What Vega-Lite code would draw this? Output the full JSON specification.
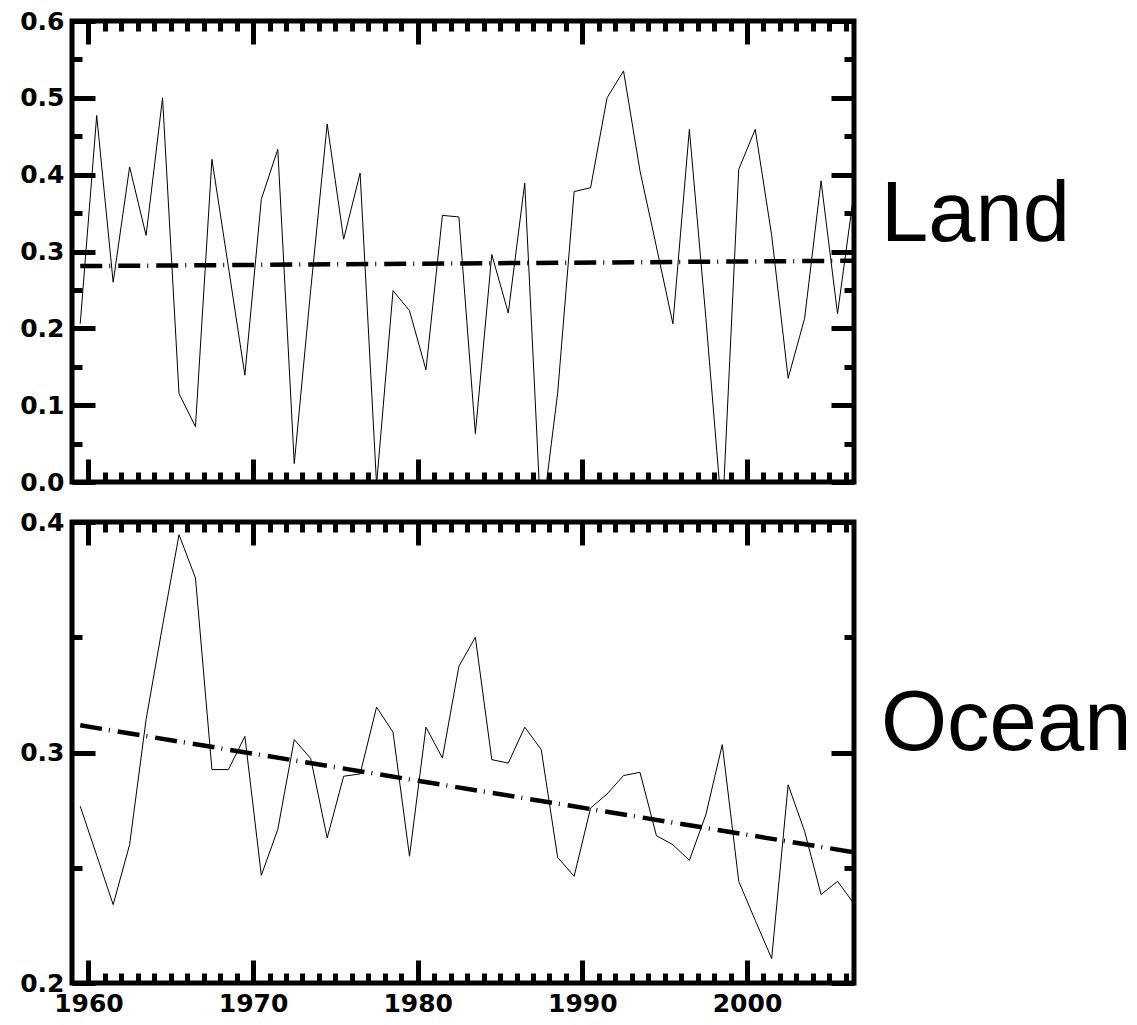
{
  "$schema": "https://vega.github.io/schema/vega-lite/v6.json",
  "padding": {"left": 17, "top": 6, "right": 0, "bottom": 0},
  "background": "white",
  "datasets": {
    "land": [
      {"year": 1959.5, "value": 0.206}, {"year": 1960.5, "value": 0.477}, {"year": 1961.5, "value": 0.260},
      {"year": 1962.5, "value": 0.410}, {"year": 1963.5, "value": 0.321}, {"year": 1964.5, "value": 0.500},
      {"year": 1965.5, "value": 0.115}, {"year": 1966.5, "value": 0.072}, {"year": 1967.5, "value": 0.420},
      {"year": 1968.5, "value": 0.280}, {"year": 1969.5, "value": 0.139}, {"year": 1970.5, "value": 0.368},
      {"year": 1971.5, "value": 0.433}, {"year": 1972.5, "value": 0.024}, {"year": 1973.5, "value": 0.250},
      {"year": 1974.5, "value": 0.466}, {"year": 1975.5, "value": 0.316}, {"year": 1976.5, "value": 0.402},
      {"year": 1977.5, "value": -0.003}, {"year": 1978.5, "value": 0.249}, {"year": 1979.5, "value": 0.223},
      {"year": 1980.5, "value": 0.146}, {"year": 1981.5, "value": 0.347}, {"year": 1982.5, "value": 0.345},
      {"year": 1983.5, "value": 0.063}, {"year": 1984.5, "value": 0.296}, {"year": 1985.5, "value": 0.220},
      {"year": 1986.5, "value": 0.389}, {"year": 1987.5, "value": -0.056}, {"year": 1988.5, "value": 0.116},
      {"year": 1989.5, "value": 0.378}, {"year": 1990.5, "value": 0.383}, {"year": 1991.5, "value": 0.500},
      {"year": 1992.5, "value": 0.535}, {"year": 1993.5, "value": 0.405}, {"year": 1994.5, "value": 0.306},
      {"year": 1995.5, "value": 0.206}, {"year": 1996.5, "value": 0.459}, {"year": 1997.5, "value": 0.214},
      {"year": 1998.5, "value": -0.047}, {"year": 1999.5, "value": 0.407}, {"year": 2000.5, "value": 0.459},
      {"year": 2001.5, "value": 0.321}, {"year": 2002.5, "value": 0.135}, {"year": 2003.5, "value": 0.213},
      {"year": 2004.5, "value": 0.392}, {"year": 2005.5, "value": 0.219}, {"year": 2006.5, "value": 0.377}
    ],
    "ocean": [
      {"year": 1959.5, "value": 0.2767}, {"year": 1960.5, "value": 0.2554}, {"year": 1961.5, "value": 0.2340},
      {"year": 1962.5, "value": 0.2600}, {"year": 1963.5, "value": 0.3143}, {"year": 1964.5, "value": 0.3550},
      {"year": 1965.5, "value": 0.3945}, {"year": 1966.5, "value": 0.3757}, {"year": 1967.5, "value": 0.2926},
      {"year": 1968.5, "value": 0.2926}, {"year": 1969.5, "value": 0.3070}, {"year": 1970.5, "value": 0.2467},
      {"year": 1971.5, "value": 0.2666}, {"year": 1972.5, "value": 0.3056}, {"year": 1973.5, "value": 0.2974},
      {"year": 1974.5, "value": 0.2629}, {"year": 1975.5, "value": 0.2897}, {"year": 1976.5, "value": 0.2907},
      {"year": 1977.5, "value": 0.3197}, {"year": 1978.5, "value": 0.3088}, {"year": 1979.5, "value": 0.2550},
      {"year": 1980.5, "value": 0.3110}, {"year": 1981.5, "value": 0.2976}, {"year": 1982.5, "value": 0.3374},
      {"year": 1983.5, "value": 0.3500}, {"year": 1984.5, "value": 0.2969}, {"year": 1985.5, "value": 0.2954},
      {"year": 1986.5, "value": 0.3110}, {"year": 1987.5, "value": 0.3013}, {"year": 1988.5, "value": 0.2545},
      {"year": 1989.5, "value": 0.2463}, {"year": 1990.5, "value": 0.2759}, {"year": 1991.5, "value": 0.2820},
      {"year": 1992.5, "value": 0.2900}, {"year": 1993.5, "value": 0.2914}, {"year": 1994.5, "value": 0.2639},
      {"year": 1995.5, "value": 0.2600}, {"year": 1996.5, "value": 0.2532}, {"year": 1997.5, "value": 0.2730},
      {"year": 1998.5, "value": 0.3034}, {"year": 1999.5, "value": 0.2441}, {"year": 2000.5, "value": 0.2272},
      {"year": 2001.5, "value": 0.2106}, {"year": 2002.5, "value": 0.2860}, {"year": 2003.5, "value": 0.2658},
      {"year": 2004.5, "value": 0.2384}, {"year": 2005.5, "value": 0.2441}, {"year": 2006.5, "value": 0.2344}
    ],
    "landTrend": [{"year": 1959.5, "value": 0.281}, {"year": 2006.5, "value": 0.288}],
    "oceanTrend": [{"year": 1959.5, "value": 0.3118}, {"year": 2006.5, "value": 0.2567}]
  },
  "bounds": "flush",
  "spacing": 40,
  "vconcat": [
    {
      "width": 782,
      "height": 461,
      "resolve": {"axis": {"x": "independent", "y": "independent"}},
      "layer": [
        {
          "data": {"name": "land"},
          "mark": {"type": "line", "color": "black", "strokeWidth": 1, "clip": true},
          "encoding": {
            "x": {"field": "year", "type": "quantitative", "scale": {"domain": [1959, 2006.5], "nice": false, "zero": false},
              "axis": {"orient": "bottom", "values": [1960, 1970, 1980, 1990, 2000], "tickSize": -23, "labels": false, "title": null}},
            "y": {"field": "value", "type": "quantitative", "scale": {"domain": [0, 0.6], "nice": false, "zero": false},
              "axis": {"orient": "left", "values": [0, 0.1, 0.2, 0.3, 0.4, 0.5, 0.6], "tickSize": -23, "labelPadding": 31, "format": ".1f", "title": null}}
          }
        },
        {
          "data": {"name": "landTrend"},
          "mark": {"type": "line", "color": "black", "strokeWidth": 4.5, "strokeDash": [22, 7, 1, 8], "strokeCap": "butt", "clip": true},
          "encoding": {
            "x": {"field": "year", "type": "quantitative",
              "axis": {"orient": "bottom", "values": [1961,1962,1963,1964,1965,1966,1967,1968,1969,1971,1972,1973,1974,1975,1976,1977,1978,1979,1981,1982,1983,1984,1985,1986,1987,1988,1989,1991,1992,1993,1994,1995,1996,1997,1998,1999,2001,2002,2003,2004,2005,2006], "tickSize": -10, "labels": false, "title": null}},
            "y": {"field": "value", "type": "quantitative",
              "axis": {"orient": "left", "values": [0.05, 0.15, 0.25, 0.35, 0.45, 0.55], "tickSize": -10, "labels": false, "title": null}}
          }
        },
        {
          "data": {"name": "land"},
          "mark": {"type": "line", "opacity": 0},
          "encoding": {
            "x": {"field": "year", "type": "quantitative",
              "axis": {"orient": "top", "values": [1960, 1970, 1980, 1990, 2000], "tickSize": -23, "labels": false, "title": null}},
            "y": {"field": "value", "type": "quantitative",
              "axis": {"orient": "right", "values": [0, 0.1, 0.2, 0.3, 0.4, 0.5, 0.6], "tickSize": -23, "labels": false,
                "title": "Land", "titleAngle": 0, "titleAlign": "left", "titleBaseline": "alphabetic", "titleFont": "Liberation Sans Narrow, Liberation Sans, Arial, sans-serif",
                "titleFontSize": 85, "titleFontWeight": "normal", "titleColor": "black", "titlePadding": 24, "titleY": 219}}
          }
        },
        {
          "data": {"name": "land"},
          "mark": {"type": "line", "opacity": 0},
          "encoding": {
            "x": {"field": "year", "type": "quantitative",
              "axis": {"orient": "top", "values": [1961,1962,1963,1964,1965,1966,1967,1968,1969,1971,1972,1973,1974,1975,1976,1977,1978,1979,1981,1982,1983,1984,1985,1986,1987,1988,1989,1991,1992,1993,1994,1995,1996,1997,1998,1999,2001,2002,2003,2004,2005,2006], "tickSize": -10, "labels": false, "title": null}},
            "y": {"field": "value", "type": "quantitative",
              "axis": {"orient": "right", "values": [0.05, 0.15, 0.25, 0.35, 0.45, 0.55], "tickSize": -10, "labels": false, "title": null}}
          }
        }
      ]
    },
    {
      "width": 782,
      "height": 461,
      "resolve": {"axis": {"x": "independent", "y": "independent"}},
      "layer": [
        {
          "data": {"name": "ocean"},
          "mark": {"type": "line", "color": "black", "strokeWidth": 1, "clip": true},
          "encoding": {
            "x": {"field": "year", "type": "quantitative", "scale": {"domain": [1959, 2006.5], "nice": false, "zero": false},
              "axis": {"orient": "bottom", "values": [1960, 1970, 1980, 1990, 2000], "tickSize": -23, "labelPadding": 31, "format": "d", "title": null}},
            "y": {"field": "value", "type": "quantitative", "scale": {"domain": [0.2, 0.4], "nice": false, "zero": false},
              "axis": {"orient": "left", "values": [0.2, 0.3, 0.4], "tickSize": -23, "labelPadding": 31, "format": ".1f", "title": null}}
          }
        },
        {
          "data": {"name": "oceanTrend"},
          "mark": {"type": "line", "color": "black", "strokeWidth": 4.5, "strokeDash": [22, 7, 1, 8], "strokeCap": "butt", "clip": true},
          "encoding": {
            "x": {"field": "year", "type": "quantitative",
              "axis": {"orient": "bottom", "values": [1961,1962,1963,1964,1965,1966,1967,1968,1969,1971,1972,1973,1974,1975,1976,1977,1978,1979,1981,1982,1983,1984,1985,1986,1987,1988,1989,1991,1992,1993,1994,1995,1996,1997,1998,1999,2001,2002,2003,2004,2005,2006], "tickSize": -10, "labels": false, "title": null}},
            "y": {"field": "value", "type": "quantitative",
              "axis": {"orient": "left", "values": [0.25, 0.35], "tickSize": -10, "labels": false, "title": null}}
          }
        },
        {
          "data": {"name": "ocean"},
          "mark": {"type": "line", "opacity": 0},
          "encoding": {
            "x": {"field": "year", "type": "quantitative",
              "axis": {"orient": "top", "values": [1960, 1970, 1980, 1990, 2000], "tickSize": -23, "labels": false, "title": null}},
            "y": {"field": "value", "type": "quantitative",
              "axis": {"orient": "right", "values": [0.2, 0.3, 0.4], "tickSize": -23, "labels": false,
                "title": "Ocean", "titleAngle": 0, "titleAlign": "left", "titleBaseline": "alphabetic", "titleFont": "Liberation Sans Narrow, Liberation Sans, Arial, sans-serif",
                "titleFontSize": 85, "titleFontWeight": "normal", "titleColor": "black", "titlePadding": 24, "titleY": 227}}
          }
        },
        {
          "data": {"name": "ocean"},
          "mark": {"type": "line", "opacity": 0},
          "encoding": {
            "x": {"field": "year", "type": "quantitative",
              "axis": {"orient": "top", "values": [1961,1962,1963,1964,1965,1966,1967,1968,1969,1971,1972,1973,1974,1975,1976,1977,1978,1979,1981,1982,1983,1984,1985,1986,1987,1988,1989,1991,1992,1993,1994,1995,1996,1997,1998,1999,2001,2002,2003,2004,2005,2006], "tickSize": -10, "labels": false, "title": null}},
            "y": {"field": "value", "type": "quantitative",
              "axis": {"orient": "right", "values": [0.25, 0.35], "tickSize": -10, "labels": false, "title": null}}
          }
        }
      ]
    }
  ],
  "config": {
    "view": {"stroke": "black", "strokeWidth": 5},
    "axis": {
      "domain": false, "grid": false, "tickColor": "black", "tickWidth": 5, "tickCap": "butt",
      "labelFont": "DejaVu Sans", "labelFontWeight": "bold", "labelFontSize": 25, "labelColor": "black",
      "labelFlush": false, "labelOverlap": false, "labelBound": false
    }
  }
}
